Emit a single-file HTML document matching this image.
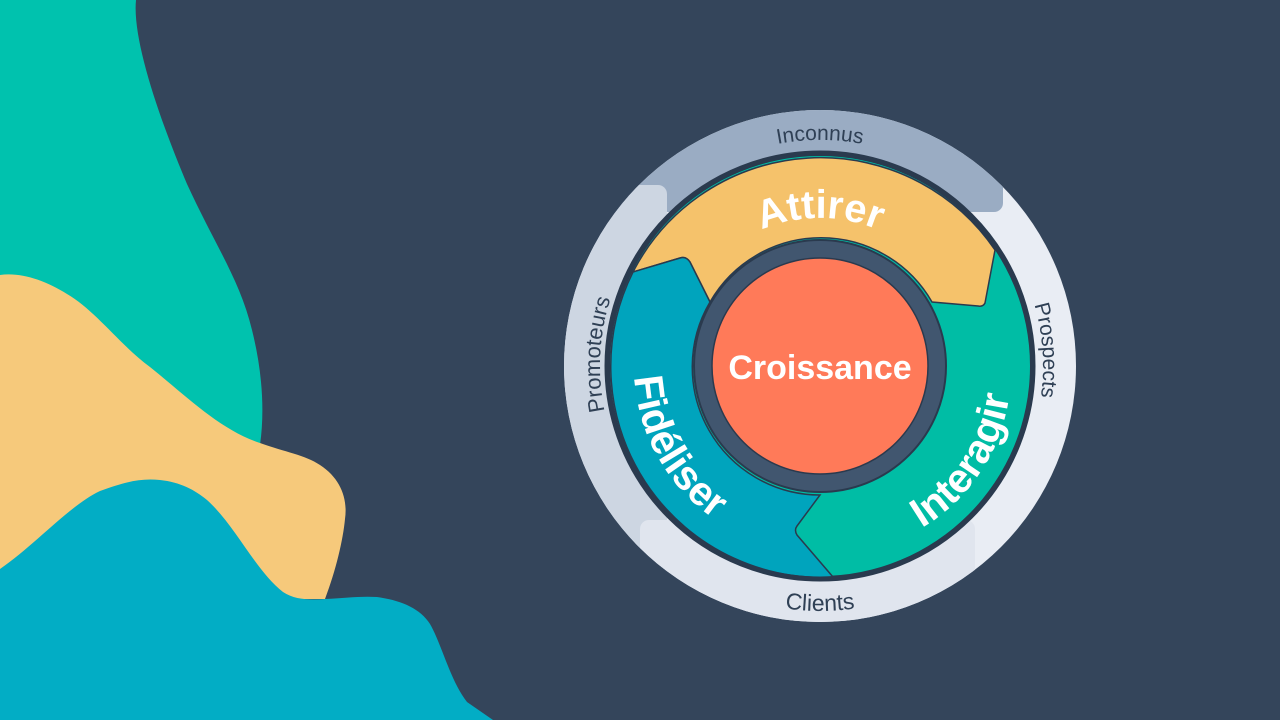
<!DOCTYPE html>
<html><head><meta charset="utf-8"><style>
html,body{margin:0;padding:0;width:1280px;height:720px;overflow:hidden;background:#34455b}
svg{display:block}
text{font-family:"Liberation Sans",sans-serif}
</style></head><body>
<svg width="1280" height="720" viewBox="0 0 1280 720" xmlns="http://www.w3.org/2000/svg">
<rect width="1280" height="720" fill="#34455b"/>
<path d="M0,0 L136,0 C132,40 160,120 187,184 C215,245 240,280 252,330 C262,370 265,410 260,445 L0,445 Z" fill="#00c2ae"/>
<path d="M0,275 C20,272 45,280 67,294 C95,310 120,345 150,367 C185,395 220,430 260,443 C285,452 305,455 320,465 C340,478 348,498 345,519 C343,540 336,570 325,599 L0,600 Z" fill="#f6c97b"/>
<path d="M0,569 C35,545 70,505 100,491 C125,482 140,478 160,480 C180,482 195,490 207,500 C235,525 255,570 283,592 C295,600 310,600 325,599 C345,598 360,596 377,597 C400,600 420,608 430,624 C442,645 450,680 467,702 L493,720 L0,720 Z" fill="#02adc5"/>
<defs>
<clipPath id="ann"><circle cx="820" cy="366" r="256"/></clipPath>
<path id="pInc" d="M607.6,288.7 A226,226 0 0 1 1032.4,288.7"/>
<path id="pAtt" d="M680.9,315.4 A148,148 0 0 1 959.1,315.4"/>
<path id="pPro" d="M881.5,151.6 A223,223 0 0 1 910.7,569.7"/>
<path id="pProm" d="M734.0,568.5 A220,220 0 0 1 755.7,155.6"/>
<path id="pCli" d="M589.8,449.8 A245,245 0 0 0 1050.2,449.8"/>
<path id="pFid" d="M681.8,241.5 A186,186 0 0 0 845.9,550.2"/>
<path id="pInt" d="M781.3,547.9 A183,183 0 0 0 966.6,251.5"/>
</defs>
<g clip-path="url(#ann)">
<rect x="560" y="100" width="530" height="540" fill="#e9edf4"/>
<rect x="550" y="95" width="453" height="117" rx="9" fill="#9aacc3"/>
<rect x="545" y="185" width="122" height="460" rx="9" fill="#cdd6e2"/>
<rect x="640" y="520" width="335" height="120" rx="9" fill="#e0e5ee"/>
</g>
<circle cx="820" cy="366" r="213" fill="#2a3a4e"/>
<circle cx="820" cy="366" r="210" fill="#00bda5"/>
<path d="M633,272 A211,211 0 0 1 995,250 L985,303 Q983,307 978,306 L932,302 A128,128 0 0 0 710,302 L690,262 Q686,256 680,258 Z" fill="#f5c26b" stroke="#2a3a4e" stroke-width="1.5"/>
<path d="M633,272 A211,211 0 0 0 833,577 L797,535 Q794,530 797,526 L820,495 A128,128 0 0 1 710,302 L690,262 Q686,256 680,258 Z" fill="#00a4bd" stroke="#2a3a4e" stroke-width="1.5"/>
<circle cx="820" cy="366" r="213" fill="none" stroke="#2a3a4e" stroke-width="5"/>
<circle cx="820" cy="366" r="126" fill="#41566f" stroke="#2a3a4e" stroke-width="2"/>
<circle cx="820" cy="366" r="108" fill="#ff7a59" stroke="#2a3a4e" stroke-width="1.5"/>
<text x="820" y="379" text-anchor="middle" font-size="34" font-weight="bold" fill="#fff">Croissance</text>
<text font-size="40" font-weight="bold" fill="#fff"><textPath href="#pAtt" startOffset="50%" text-anchor="middle">Attirer</textPath></text>
<text font-size="41" font-weight="bold" fill="#fff"><textPath href="#pFid" startOffset="51%" text-anchor="middle">Fidéliser</textPath></text>
<text font-size="41" font-weight="bold" fill="#fff"><textPath href="#pInt" startOffset="49%" text-anchor="middle">Interagir</textPath></text>
<text font-size="21" fill="#2f4055"><textPath href="#pInc" startOffset="50%" text-anchor="middle">Inconnus</textPath></text>
<text font-size="21" fill="#2f4055"><textPath href="#pPro" startOffset="50%" text-anchor="middle">Prospects</textPath></text>
<text font-size="22" fill="#2f4055"><textPath href="#pProm" startOffset="50%" text-anchor="middle">Promoteurs</textPath></text>
<text font-size="23" fill="#2f4055"><textPath href="#pCli" startOffset="50%" text-anchor="middle">Clients</textPath></text>
</svg>
</body></html>
